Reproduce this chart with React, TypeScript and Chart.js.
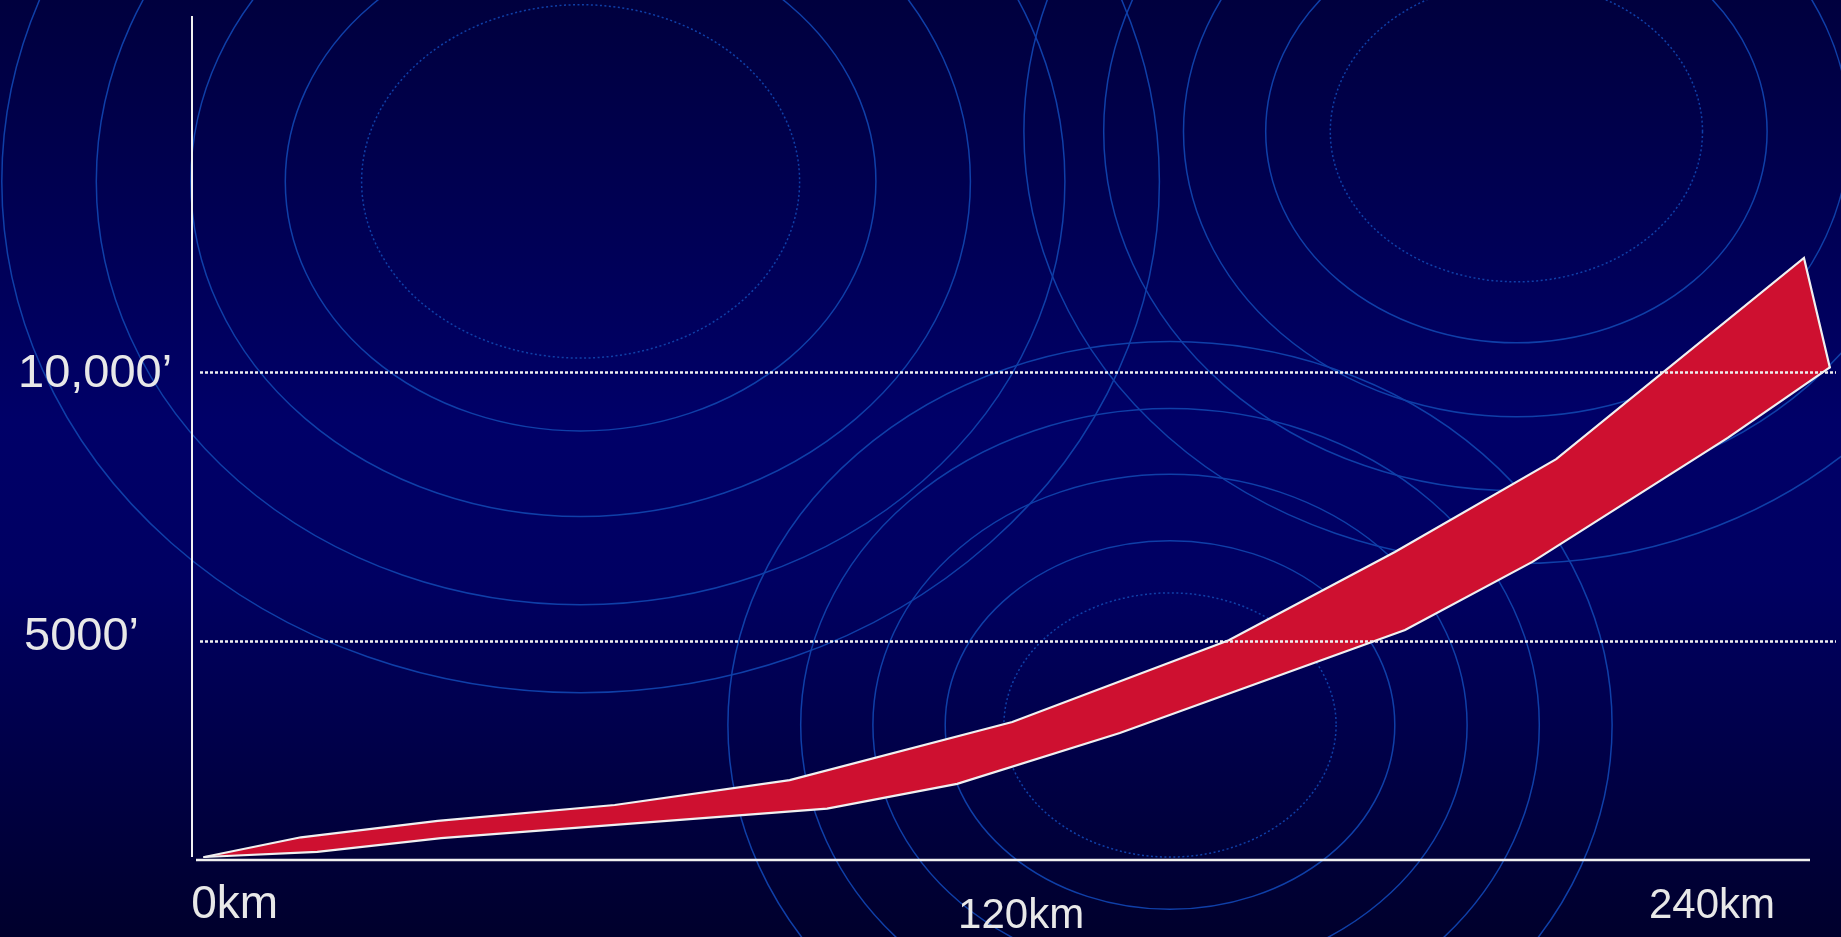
import React, { useEffect, useRef } from "react";
import { Chart, registerables } from "chart.js";

Chart.register(...registerables);

// ---- data ----
// upper edge of the band; last point is the shared right-hand tip where it meets the lower edge
const upperKm = [0, 14.2, 34.3, 60.3, 86.0, 118.7, 150.5, 174.9, 198.6, 235.0, 238.8];
const upperFt = [980, 1346, 1650, 1946, 2410, 3490, 5010, 6650, 8375, 12115, 10080];
// lower edge of the band
const lowerKm = [0, 16.6, 34.8, 91.5, 110.6, 134.5, 176.4, 195.1, 223.8, 238.8];
const lowerFt = [980, 1075, 1330, 1880, 2340, 3285, 5200, 6465, 8770, 10080];

const yTickValues = [5000, 10000];
const yTickLabels = ["5000\u2019", "10,000\u2019"];
const xTickValues = [0, 120, 240];
const xTickLabels = ["0km", "120km", "240km"];

// ---- style ----
const RED = "#ce1030";
const WHITE = "#f0f0f0";
const TEXT = "#e8e8e8";
const RING = "#0f3fa8";
const FONT = "'Liberation Sans', Arial, sans-serif";

// decorative concentric rings in the background (not data)
const ringSets = [
  { cx: 580.6, cy: 181.4, rx: [219, 295.3, 389.8, 484.3, 578.8], ry: [176.7, 249.5, 335.2, 423.3, 511.3] },
  { cx: 1516.4, cy: 131.5, rx: [186.1, 250.7, 332.9, 412.7, 492.5], ry: [150.3, 211.3, 285.3, 359.3, 432.1] },
  { cx: 1170, cy: 725, rx: [166.1, 224.8, 297.1, 369.3, 442.1], ry: [132.1, 184.3, 250.7, 316.4, 383.4] },
];

// label placement style
const yLabelStyle = [
  { x: 24, dy: 9 },
  { x: 18, dy: 15 },
];
const xLabelStyle = [
  { align: "left" as CanvasTextAlign, dx: -13, dy: 58, size: 46 },
  { align: "center" as CanvasTextAlign, dx: 0, dy: 68, size: 42 },
  { align: "right" as CanvasTextAlign, dx: -63, dy: 58, size: 42 },
];

export default function App() {
  const ref = useRef<HTMLCanvasElement>(null);

  useEffect(() => {
    const canvas = ref.current;
    if (!canvas) return;

    const decor = {
      id: "decor",
      beforeDraw(chart: any) {
        const { ctx, width, height } = chart;
        ctx.save();
        const g = ctx.createLinearGradient(0, 0, 0, height);
        g.addColorStop(0, "#00003e");
        g.addColorStop(0.45, "#000068");
        g.addColorStop(0.62, "#000062");
        g.addColorStop(1, "#00002c");
        ctx.fillStyle = g;
        ctx.fillRect(0, 0, width, height);
        ctx.strokeStyle = RING;
        ctx.lineWidth = 1.5;
        for (const s of ringSets) {
          s.rx.forEach((rx, i) => {
            ctx.setLineDash(i === 0 ? [2, 2.5] : []);
            ctx.beginPath();
            ctx.ellipse(s.cx, s.cy, rx, s.ry[i], 0, 0, Math.PI * 2);
            ctx.stroke();
          });
        }
        ctx.restore();
      },
      beforeDatasetsDraw(chart: any) {
        const { ctx, chartArea } = chart;
        ctx.save();
        ctx.strokeStyle = WHITE;
        ctx.setLineDash([]);
        // y axis line
        ctx.lineWidth = 2;
        ctx.beginPath();
        ctx.moveTo(chartArea.left, chartArea.top);
        ctx.lineTo(chartArea.left, chartArea.bottom - 3);
        ctx.stroke();
        // x axis line
        ctx.lineWidth = 2.6;
        ctx.beginPath();
        ctx.moveTo(chartArea.left + 4, chartArea.bottom);
        ctx.lineTo(chartArea.right - 28, chartArea.bottom);
        ctx.stroke();
        ctx.restore();
      },
      afterDatasetsDraw(chart: any) {
        const { ctx, chartArea } = chart;
        const y = chart.scales.y;
        ctx.save();
        ctx.strokeStyle = WHITE;
        ctx.lineWidth = 2.5;
        ctx.setLineDash([3, 2]);
        yTickValues.forEach((v) => {
          const py = Math.round(y.getPixelForValue(v)) + 0.5;
          ctx.beginPath();
          ctx.moveTo(chartArea.left + 8, py);
          ctx.lineTo(chartArea.right - 2, py);
          ctx.stroke();
        });
        ctx.restore();
      },
      afterDraw(chart: any) {
        const { ctx, chartArea } = chart;
        const x = chart.scales.x;
        const y = chart.scales.y;
        ctx.save();
        ctx.fillStyle = TEXT;
        ctx.textBaseline = "alphabetic";
        // y labels
        ctx.font = `47px ${FONT}`;
        ctx.textAlign = "left";
        yTickValues.forEach((v, i) => {
          const st = yLabelStyle[i];
          ctx.fillText(yTickLabels[i], st.x, y.getPixelForValue(v) + st.dy);
        });
        // x labels
        xTickValues.forEach((v, i) => {
          const st = xLabelStyle[i];
          ctx.font = `${st.size}px ${FONT}`;
          ctx.textAlign = st.align;
          ctx.fillText(xTickLabels[i], x.getPixelForValue(v) + st.dx, chartArea.bottom + st.dy);
        });
        ctx.restore();
      },
    };

    const chart = new Chart(canvas, {
      type: "line",
      data: {
        datasets: [
          {
            label: "upper",
            data: upperKm.map((k, i) => ({ x: k, y: upperFt[i] })),
            borderColor: WHITE,
            borderWidth: 2.2,
            backgroundColor: RED,
            fill: "+1",
            pointRadius: 0,
            tension: 0,
            borderCapStyle: "round",
          },
          {
            label: "lower",
            data: lowerKm.map((k, i) => ({ x: k, y: lowerFt[i] })),
            borderColor: WHITE,
            borderWidth: 2.2,
            backgroundColor: RED,
            fill: false,
            pointRadius: 0,
            tension: 0,
            borderCapStyle: "round",
          },
        ],
      },
      options: {
        responsive: false,
        animation: false,
        events: [],
        layout: { padding: { left: 192, top: 16, right: 3, bottom: 77 } },
        scales: {
          x: { type: "linear", min: -1.8, max: 240, display: false },
          y: { type: "linear", min: 924, max: 16611, display: false },
        },
        plugins: {
          legend: { display: false },
          tooltip: { enabled: false },
          filler: { drawTime: "beforeDatasetsDraw" },
        },
      } as any,
      plugins: [decor],
    });

    return () => chart.destroy();
  }, []);

  return (
    <div style={{ position: "fixed", left: 0, top: 0, width: 1841, height: 937, overflow: "hidden" }}>
      <canvas ref={ref} width={1841} height={937} style={{ display: "block", width: 1841, height: 937 }} />
    </div>
  );
}
